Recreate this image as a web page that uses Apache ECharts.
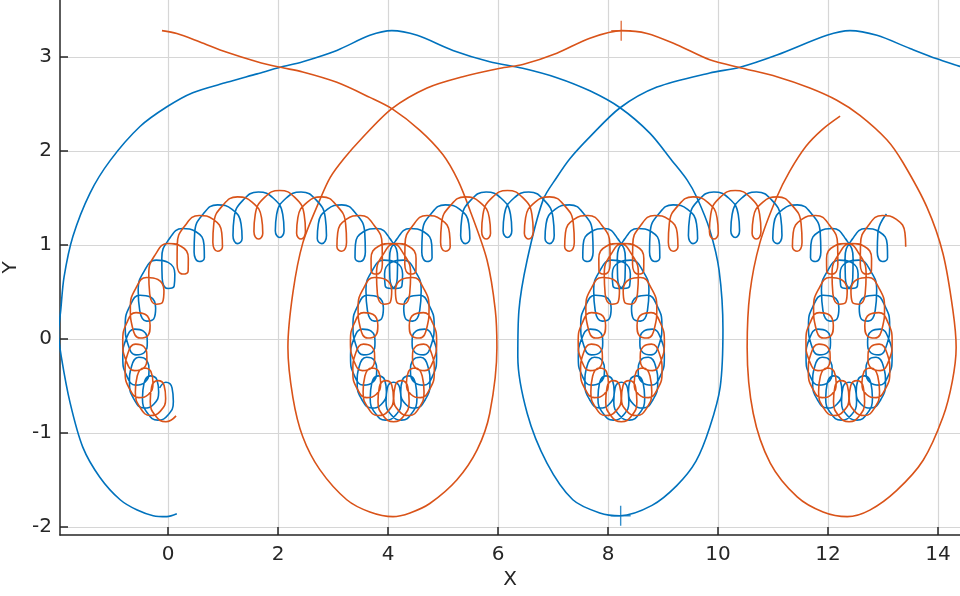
<!DOCTYPE html>
<html>
<head>
<meta charset="utf-8">
<script src="https://cdn.jsdelivr.net/npm/echarts@6/dist/echarts.min.js"></script>
<style>
  html, body { margin: 0; padding: 0; background: #fff; }
  #chart { width: 960px; height: 596px; }
</style>
</head>
<body>
<div id="chart"></div>
<script>
// wide pair
const blueBig = [
  [0.16, -1.86], [-0.02, -1.89], [-0.27, -1.88], [-0.56, -1.82], [-0.87, -1.71], [-1.24, -1.47],
  [-1.55, -1.15], [-1.78, -0.68], [-1.94, -0.19], [-1.99, 0.06], [-1.95, 0.31], [-1.89, 0.66],
  [-1.73, 1.09], [-1.42, 1.55], [-1.05, 1.9], [-0.51, 2.26], [-0.02, 2.47], [0.45, 2.62],
  [1.07, 2.73], [1.62, 2.82], [2.04, 2.89], [2.45, 2.95], [3.07, 3.07], [3.67, 3.23],
  [4.07, 3.28], [4.53, 3.23], [5.18, 3.07], [5.85, 2.95], [6.45, 2.88], [7.07, 2.78],
  [7.67, 2.64], [8.22, 2.46], [8.76, 2.19], [9.16, 1.9], [9.44, 1.69], [9.62, 1.5],
  [9.85, 1.16], [10.02, 0.73], [10.09, 0.1], [10.04, -0.51], [9.85, -0.94], [9.6, -1.3],
  [9.25, -1.56], [8.8, -1.77], [8.22, -1.88], [7.85, -1.85], [7.36, -1.71], [6.89, -1.32],
  [6.53, -0.79], [6.36, -0.19], [6.38, 0.3], [6.53, 0.84], [6.82, 1.48], [7.07, 1.72],
  [7.31, 1.92], [7.67, 2.15], [8.22, 2.46], [8.89, 2.68], [9.85, 2.83], [10.4, 2.89],
  [11.07, 3.02], [11.98, 3.23], [12.4, 3.28], [12.89, 3.23], [13.49, 3.09], [13.98, 2.98],
  [14.4, 2.9], [14.8, 2.82]
];
const orangeBig = [
  [-0.11, 3.28], [0.16, 3.25], [0.58, 3.16], [1.07, 3.05], [1.62, 2.95], [2.04, 2.89],
  [2.45, 2.84], [3.07, 2.73], [3.67, 2.57], [4.07, 2.45], [4.58, 2.22], [5.0, 1.96],
  [5.27, 1.69], [5.49, 1.37], [5.8, 0.84], [5.95, 0.31], [5.98, -0.09], [5.85, -0.79],
  [5.62, -1.18], [5.25, -1.5], [4.76, -1.75], [4.4, -1.85], [4.09, -1.89], [3.67, -1.84],
  [3.25, -1.71], [2.76, -1.39], [2.45, -1.04], [2.27, -0.62], [2.18, -0.09], [2.27, 0.49],
  [2.45, 1.02], [2.76, 1.48], [2.95, 1.72], [3.2, 1.92], [3.5, 2.12], [4.07, 2.45],
  [4.71, 2.67], [5.36, 2.79], [6.04, 2.88], [6.45, 2.92], [7.07, 3.04], [7.67, 3.2],
  [8.25, 3.28], [8.71, 3.25], [9.25, 3.13], [9.85, 2.97], [10.45, 2.88], [11.07, 2.79],
  [11.67, 2.67], [12.16, 2.54], [12.58, 2.38], [13.07, 2.12], [13.36, 1.88], [13.8, 1.4],
  [14.09, 0.91], [14.27, 0.31], [14.33, -0.09], [14.26, -0.45], [14.09, -0.83], [13.73, -1.29],
  [13.25, -1.61], [12.76, -1.82], [12.35, -1.89], [11.91, -1.84], [11.44, -1.68], [10.95, -1.32],
  [10.64, -0.79], [10.53, -0.09], [10.58, 0.49], [10.76, 1.02], [11.07, 1.51], [11.3, 1.78],
  [11.6, 2.05], [11.9, 2.23], [12.22, 2.37]
];

// tight pair: loop chain, eight points per small loop
const blueSmall = [
  [-0.152, -0.520], [-0.040, -0.460], [0.073, -0.520], [0.097, -0.666], [0.000, -0.809], [-0.184, -0.863],
  [-0.369, -0.792], [-0.465, -0.632], [-0.436, -0.469], [-0.320, -0.392], [-0.201, -0.435], [-0.170, -0.565],
  [-0.260, -0.694], [-0.438, -0.734], [-0.614, -0.646], [-0.701, -0.469], [-0.661, -0.287], [-0.529, -0.194],
  [-0.394, -0.224], [-0.346, -0.344], [-0.423, -0.463], [-0.588, -0.491], [-0.752, -0.390], [-0.822, -0.196],
  [-0.762, -0.001], [-0.607, 0.105], [-0.448, 0.083], [-0.377, -0.031], [-0.435, -0.146], [-0.582, -0.169],
  [-0.727, -0.058], [-0.778, 0.146], [-0.692, 0.352], [-0.509, 0.466], [-0.322, 0.446], [-0.225, 0.330],
  [-0.260, 0.213], [-0.387, 0.190], [-0.514, 0.303], [-0.542, 0.514], [-0.430, 0.725], [-0.216, 0.839],
  [0.001, 0.815], [0.124, 0.691], [0.112, 0.565], [0.002, 0.537], [-0.106, 0.647], [-0.113, 0.856],
  [0.024, 1.066], [0.265, 1.175], [0.509, 1.141], [0.654, 1.004], [0.661, 0.864], [0.567, 0.824],
  [0.474, 0.925], [0.485, 1.128], [0.640, 1.330], [0.902, 1.427], [1.165, 1.379], [1.328, 1.225],
  [1.347, 1.069], [1.263, 1.014], [1.181, 1.102], [1.202, 1.292], [1.369, 1.480], [1.643, 1.563],
  [1.916, 1.497], [2.086, 1.326], [2.110, 1.152],
  [2.031, 1.080], [1.951, 1.152], [1.975, 1.326], [2.145, 1.497], [2.419, 1.563], [2.692, 1.480],
  [2.859, 1.292], [2.881, 1.102], [2.798, 1.014], [2.714, 1.069], [2.733, 1.225], [2.896, 1.379],
  [3.159, 1.427], [3.421, 1.330], [3.577, 1.128], [3.588, 0.925], [3.495, 0.824], [3.400, 0.864],
  [3.407, 1.004], [3.553, 1.141], [3.797, 1.175], [4.037, 1.066], [4.174, 0.856], [4.168, 0.647],
  [4.059, 0.537], [3.949, 0.565], [3.937, 0.691], [4.060, 0.815], [4.278, 0.839], [4.491, 0.725],
  [4.603, 0.514], [4.576, 0.303], [4.449, 0.190], [4.321, 0.213], [4.286, 0.330], [4.383, 0.446],
  [4.571, 0.466], [4.753, 0.352], [4.839, 0.146], [4.788, -0.058], [4.643, -0.169], [4.496, -0.146],
  [4.438, -0.031], [4.509, 0.083], [4.668, 0.105], [4.823, -0.001], [4.883, -0.196], [4.813, -0.390],
  [4.649, -0.491], [4.484, -0.463], [4.408, -0.344], [4.456, -0.224], [4.591, -0.194], [4.723, -0.287],
  [4.763, -0.469], [4.676, -0.646], [4.499, -0.734], [4.322, -0.694], [4.231, -0.565], [4.263, -0.435],
  [4.381, -0.392], [4.498, -0.469], [4.526, -0.632], [4.430, -0.792], [4.246, -0.863], [4.061, -0.809],
  [3.964, -0.666], [3.988, -0.520], [4.101, -0.460], [4.213, -0.520], [4.238, -0.666], [4.141, -0.809],
  [3.956, -0.863], [3.772, -0.792], [3.676, -0.632], [3.704, -0.469], [3.821, -0.392], [3.939, -0.435],
  [3.971, -0.565], [3.880, -0.694], [3.703, -0.734], [3.526, -0.646], [3.439, -0.469], [3.479, -0.287],
  [3.611, -0.194], [3.746, -0.224], [3.794, -0.344], [3.718, -0.463], [3.553, -0.491], [3.389, -0.390],
  [3.319, -0.196], [3.378, -0.001], [3.534, 0.105], [3.693, 0.083], [3.763, -0.031], [3.706, -0.146],
  [3.559, -0.169], [3.413, -0.058], [3.363, 0.146], [3.449, 0.352], [3.631, 0.466], [3.819, 0.446],
  [3.916, 0.330], [3.881, 0.213], [3.753, 0.190], [3.626, 0.303], [3.599, 0.514], [3.711, 0.725],
  [3.924, 0.839], [4.141, 0.815], [4.265, 0.691], [4.253, 0.565], [4.143, 0.537], [4.034, 0.647],
  [4.028, 0.856], [4.165, 1.066], [4.405, 1.175], [4.649, 1.141], [4.795, 1.004], [4.801, 0.864],
  [4.707, 0.824], [4.614, 0.925], [4.625, 1.128], [4.781, 1.330], [5.043, 1.427], [5.306, 1.379],
  [5.469, 1.225], [5.488, 1.069], [5.404, 1.014], [5.321, 1.102], [5.343, 1.292], [5.510, 1.480],
  [5.783, 1.563], [6.057, 1.497], [6.227, 1.326], [6.251, 1.152],
  [6.172, 1.080], [6.092, 1.152], [6.116, 1.326], [6.286, 1.497], [6.560, 1.563], [6.833, 1.480],
  [7.000, 1.292], [7.022, 1.102], [6.939, 1.014], [6.855, 1.069], [6.874, 1.225], [7.037, 1.379],
  [7.300, 1.427], [7.562, 1.330], [7.718, 1.128], [7.729, 0.925], [7.636, 0.824], [7.541, 0.864],
  [7.548, 1.004], [7.694, 1.141], [7.938, 1.175], [8.178, 1.066], [8.315, 0.856], [8.309, 0.647],
  [8.200, 0.537], [8.090, 0.565], [8.078, 0.691], [8.201, 0.815], [8.419, 0.839], [8.632, 0.725],
  [8.744, 0.514], [8.717, 0.303], [8.590, 0.190], [8.462, 0.213], [8.427, 0.330], [8.524, 0.446],
  [8.712, 0.466], [8.894, 0.352], [8.980, 0.146], [8.929, -0.058], [8.784, -0.169], [8.637, -0.146],
  [8.579, -0.031], [8.650, 0.083], [8.809, 0.105], [8.964, -0.001], [9.024, -0.196], [8.954, -0.390],
  [8.790, -0.491], [8.625, -0.463], [8.549, -0.344], [8.597, -0.224], [8.732, -0.194], [8.864, -0.287],
  [8.904, -0.469], [8.817, -0.646], [8.640, -0.734], [8.463, -0.694], [8.372, -0.565], [8.404, -0.435],
  [8.522, -0.392], [8.639, -0.469], [8.667, -0.632], [8.571, -0.792], [8.387, -0.863], [8.202, -0.809],
  [8.105, -0.666], [8.129, -0.520], [8.242, -0.460], [8.354, -0.520], [8.379, -0.666], [8.282, -0.809],
  [8.097, -0.863], [7.913, -0.792], [7.817, -0.632], [7.845, -0.469], [7.962, -0.392], [8.080, -0.435],
  [8.112, -0.565], [8.021, -0.694], [7.844, -0.734], [7.667, -0.646], [7.580, -0.469], [7.620, -0.287],
  [7.752, -0.194], [7.887, -0.224], [7.935, -0.344], [7.859, -0.463], [7.694, -0.491], [7.530, -0.390],
  [7.460, -0.196], [7.519, -0.001], [7.675, 0.105], [7.834, 0.083], [7.904, -0.031], [7.847, -0.146],
  [7.700, -0.169], [7.554, -0.058], [7.504, 0.146], [7.590, 0.352], [7.772, 0.466], [7.960, 0.446],
  [8.057, 0.330], [8.022, 0.213], [7.894, 0.190], [7.767, 0.303], [7.740, 0.514], [7.852, 0.725],
  [8.065, 0.839], [8.282, 0.815], [8.406, 0.691], [8.394, 0.565], [8.284, 0.537], [8.175, 0.647],
  [8.169, 0.856], [8.306, 1.066], [8.546, 1.175], [8.790, 1.141], [8.936, 1.004], [8.942, 0.864],
  [8.848, 0.824], [8.755, 0.925], [8.766, 1.128], [8.922, 1.330], [9.184, 1.427], [9.447, 1.379],
  [9.610, 1.225], [9.629, 1.069], [9.545, 1.014], [9.462, 1.102], [9.484, 1.292], [9.651, 1.480],
  [9.924, 1.563], [10.198, 1.497], [10.368, 1.326], [10.392, 1.152],
  [10.313, 1.080], [10.233, 1.152], [10.257, 1.326], [10.427, 1.497], [10.701, 1.563], [10.974, 1.480],
  [11.141, 1.292], [11.163, 1.102], [11.080, 1.014], [10.996, 1.069], [11.015, 1.225], [11.178, 1.379],
  [11.441, 1.427], [11.703, 1.330], [11.859, 1.128], [11.870, 0.925], [11.777, 0.824], [11.682, 0.864],
  [11.689, 1.004], [11.835, 1.141], [12.079, 1.175], [12.319, 1.066], [12.456, 0.856], [12.450, 0.647],
  [12.341, 0.537], [12.231, 0.565], [12.219, 0.691], [12.342, 0.815], [12.560, 0.839], [12.773, 0.725],
  [12.885, 0.514], [12.858, 0.303], [12.731, 0.190], [12.603, 0.213], [12.568, 0.330], [12.665, 0.446],
  [12.853, 0.466], [13.035, 0.352], [13.121, 0.146], [13.070, -0.058], [12.925, -0.169], [12.778, -0.146],
  [12.720, -0.031], [12.791, 0.083], [12.950, 0.105], [13.105, -0.001], [13.165, -0.196], [13.095, -0.390],
  [12.931, -0.491], [12.766, -0.463], [12.690, -0.344], [12.738, -0.224], [12.873, -0.194], [13.005, -0.287],
  [13.045, -0.469], [12.958, -0.646], [12.781, -0.734], [12.604, -0.694], [12.513, -0.565], [12.545, -0.435],
  [12.663, -0.392], [12.780, -0.469], [12.808, -0.632], [12.712, -0.792], [12.528, -0.863], [12.343, -0.809],
  [12.246, -0.666], [12.270, -0.520], [12.383, -0.460], [12.495, -0.520], [12.520, -0.666], [12.423, -0.809],
  [12.238, -0.863], [12.054, -0.792], [11.958, -0.632], [11.986, -0.469], [12.103, -0.392], [12.221, -0.435],
  [12.253, -0.565], [12.162, -0.694], [11.985, -0.734], [11.808, -0.646], [11.721, -0.469], [11.761, -0.287],
  [11.893, -0.194], [12.028, -0.224], [12.076, -0.344], [12.000, -0.463], [11.835, -0.491], [11.671, -0.390],
  [11.601, -0.196], [11.660, -0.001], [11.816, 0.105], [11.975, 0.083], [12.045, -0.031], [11.988, -0.146],
  [11.841, -0.169], [11.695, -0.058], [11.645, 0.146], [11.731, 0.352], [11.913, 0.466], [12.101, 0.446],
  [12.198, 0.330], [12.163, 0.213], [12.035, 0.190], [11.908, 0.303], [11.881, 0.514], [11.993, 0.725],
  [12.206, 0.839], [12.423, 0.815], [12.547, 0.691], [12.535, 0.565], [12.425, 0.537], [12.316, 0.647],
  [12.310, 0.856], [12.447, 1.066], [12.687, 1.175], [12.931, 1.141], [13.077, 1.004], [13.083, 0.864],
  [12.989, 0.824], [12.896, 0.925], [12.907, 1.128], [13.063, 1.330]
];
const orangeSmall = [
  [0.146, -0.818], [-0.040, -0.880], [-0.225, -0.818], [-0.323, -0.666], [-0.298, -0.511], [-0.184, -0.443],
  [-0.071, -0.494], [-0.043, -0.632], [-0.138, -0.767], [-0.320, -0.814], [-0.501, -0.735], [-0.594, -0.565],
  [-0.560, -0.394], [-0.438, -0.308], [-0.312, -0.344], [-0.273, -0.469], [-0.357, -0.591], [-0.529, -0.624],
  [-0.700, -0.530], [-0.780, -0.344], [-0.731, -0.155], [-0.588, -0.055], [-0.442, -0.080], [-0.384, -0.196],
  [-0.450, -0.313], [-0.607, -0.337], [-0.762, -0.231], [-0.823, -0.031], [-0.751, 0.170], [-0.582, 0.281],
  [-0.409, 0.260], [-0.326, 0.146], [-0.372, 0.032], [-0.509, 0.010], [-0.646, 0.122], [-0.685, 0.330],
  [-0.586, 0.539], [-0.387, 0.654], [-0.184, 0.633], [-0.074, 0.514], [-0.098, 0.393], [-0.216, 0.369],
  [-0.333, 0.481], [-0.350, 0.691], [-0.226, 0.903], [0.002, 1.015], [0.234, 0.987], [0.369, 0.856],
  [0.366, 0.724], [0.265, 0.691], [0.165, 0.797], [0.168, 1.004], [0.315, 1.210], [0.567, 1.314],
  [0.822, 1.273], [0.977, 1.128], [0.990, 0.980], [0.902, 0.933], [0.815, 1.029], [0.832, 1.225],
  [0.995, 1.421], [1.263, 1.512], [1.533, 1.454], [1.700, 1.292], [1.723, 1.126], [1.643, 1.063],
  [1.562, 1.143], [1.586, 1.326], [1.756, 1.506],
  [2.031, 1.580], [2.305, 1.506], [2.475, 1.326], [2.499, 1.143], [2.419, 1.063], [2.338, 1.126],
  [2.361, 1.292], [2.529, 1.454], [2.798, 1.512], [3.066, 1.421], [3.229, 1.225], [3.246, 1.029],
  [3.159, 0.933], [3.071, 0.980], [3.085, 1.128], [3.240, 1.273], [3.495, 1.314], [3.746, 1.210],
  [3.893, 1.004], [3.897, 0.797], [3.797, 0.691], [3.695, 0.724], [3.692, 0.856], [3.828, 0.987],
  [4.059, 1.015], [4.287, 0.903], [4.411, 0.691], [4.394, 0.481], [4.278, 0.369], [4.159, 0.393],
  [4.135, 0.514], [4.246, 0.633], [4.449, 0.654], [4.647, 0.539], [4.746, 0.330], [4.707, 0.122],
  [4.571, 0.010], [4.433, 0.032], [4.387, 0.146], [4.470, 0.260], [4.643, 0.281], [4.812, 0.170],
  [4.884, -0.031], [4.823, -0.231], [4.668, -0.337], [4.511, -0.313], [4.445, -0.196], [4.503, -0.080],
  [4.649, -0.055], [4.792, -0.155], [4.842, -0.344], [4.762, -0.530], [4.591, -0.624], [4.419, -0.591],
  [4.335, -0.469], [4.374, -0.344], [4.499, -0.308], [4.622, -0.394], [4.655, -0.565], [4.563, -0.735],
  [4.381, -0.814], [4.200, -0.767], [4.104, -0.632], [4.132, -0.494], [4.246, -0.443], [4.359, -0.511],
  [4.384, -0.666], [4.286, -0.818], [4.101, -0.880], [3.915, -0.818], [3.818, -0.666], [3.843, -0.511],
  [3.956, -0.443], [4.070, -0.494], [4.098, -0.632], [4.002, -0.767], [3.821, -0.814], [3.639, -0.735],
  [3.547, -0.565], [3.580, -0.394], [3.703, -0.308], [3.828, -0.344], [3.867, -0.469], [3.783, -0.591],
  [3.611, -0.624], [3.440, -0.530], [3.360, -0.344], [3.410, -0.155], [3.553, -0.055], [3.699, -0.080],
  [3.757, -0.196], [3.690, -0.313], [3.534, -0.337], [3.379, -0.231], [3.317, -0.031], [3.390, 0.170],
  [3.559, 0.281], [3.731, 0.260], [3.815, 0.146], [3.769, 0.032], [3.631, 0.010], [3.495, 0.122],
  [3.456, 0.330], [3.555, 0.539], [3.753, 0.654], [3.956, 0.633], [4.067, 0.514], [4.043, 0.393],
  [3.924, 0.369], [3.807, 0.481], [3.791, 0.691], [3.915, 0.903], [4.143, 1.015], [4.374, 0.987],
  [4.510, 0.856], [4.507, 0.724], [4.405, 0.691], [4.305, 0.797], [4.309, 1.004], [4.455, 1.210],
  [4.707, 1.314], [4.962, 1.273], [5.117, 1.128], [5.131, 0.980], [5.043, 0.933], [4.956, 1.029],
  [4.973, 1.225], [5.136, 1.421], [5.404, 1.512], [5.673, 1.454], [5.841, 1.292], [5.864, 1.126],
  [5.783, 1.063], [5.703, 1.143], [5.727, 1.326], [5.897, 1.506],
  [6.172, 1.580], [6.446, 1.506], [6.616, 1.326], [6.640, 1.143], [6.560, 1.063], [6.479, 1.126],
  [6.502, 1.292], [6.670, 1.454], [6.939, 1.512], [7.207, 1.421], [7.370, 1.225], [7.387, 1.029],
  [7.300, 0.933], [7.212, 0.980], [7.226, 1.128], [7.381, 1.273], [7.636, 1.314], [7.887, 1.210],
  [8.034, 1.004], [8.038, 0.797], [7.938, 0.691], [7.836, 0.724], [7.833, 0.856], [7.969, 0.987],
  [8.200, 1.015], [8.428, 0.903], [8.552, 0.691], [8.535, 0.481], [8.419, 0.369], [8.300, 0.393],
  [8.276, 0.514], [8.387, 0.633], [8.590, 0.654], [8.788, 0.539], [8.887, 0.330], [8.848, 0.122],
  [8.712, 0.010], [8.574, 0.032], [8.528, 0.146], [8.611, 0.260], [8.784, 0.281], [8.953, 0.170],
  [9.025, -0.031], [8.964, -0.231], [8.809, -0.337], [8.652, -0.313], [8.586, -0.196], [8.644, -0.080],
  [8.790, -0.055], [8.933, -0.155], [8.983, -0.344], [8.903, -0.530], [8.732, -0.624], [8.560, -0.591],
  [8.476, -0.469], [8.515, -0.344], [8.640, -0.308], [8.763, -0.394], [8.796, -0.565], [8.704, -0.735],
  [8.522, -0.814], [8.341, -0.767], [8.245, -0.632], [8.273, -0.494], [8.387, -0.443], [8.500, -0.511],
  [8.525, -0.666], [8.427, -0.818], [8.242, -0.880], [8.056, -0.818], [7.959, -0.666], [7.984, -0.511],
  [8.097, -0.443], [8.211, -0.494], [8.239, -0.632], [8.143, -0.767], [7.962, -0.814], [7.780, -0.735],
  [7.688, -0.565], [7.721, -0.394], [7.844, -0.308], [7.969, -0.344], [8.008, -0.469], [7.924, -0.591],
  [7.752, -0.624], [7.581, -0.530], [7.501, -0.344], [7.551, -0.155], [7.694, -0.055], [7.840, -0.080],
  [7.898, -0.196], [7.831, -0.313], [7.675, -0.337], [7.520, -0.231], [7.458, -0.031], [7.531, 0.170],
  [7.700, 0.281], [7.872, 0.260], [7.956, 0.146], [7.910, 0.032], [7.772, 0.010], [7.636, 0.122],
  [7.597, 0.330], [7.696, 0.539], [7.894, 0.654], [8.097, 0.633], [8.208, 0.514], [8.184, 0.393],
  [8.065, 0.369], [7.948, 0.481], [7.932, 0.691], [8.056, 0.903], [8.284, 1.015], [8.515, 0.987],
  [8.651, 0.856], [8.648, 0.724], [8.546, 0.691], [8.446, 0.797], [8.450, 1.004], [8.596, 1.210],
  [8.848, 1.314], [9.103, 1.273], [9.258, 1.128], [9.272, 0.980], [9.184, 0.933], [9.097, 1.029],
  [9.114, 1.225], [9.277, 1.421], [9.545, 1.512], [9.814, 1.454], [9.982, 1.292], [10.005, 1.126],
  [9.924, 1.063], [9.844, 1.143], [9.868, 1.326], [10.038, 1.506],
  [10.313, 1.580], [10.587, 1.506], [10.757, 1.326], [10.781, 1.143], [10.701, 1.063], [10.620, 1.126],
  [10.643, 1.292], [10.811, 1.454], [11.080, 1.512], [11.348, 1.421], [11.511, 1.225], [11.528, 1.029],
  [11.441, 0.933], [11.353, 0.980], [11.367, 1.128], [11.522, 1.273], [11.777, 1.314], [12.028, 1.210],
  [12.175, 1.004], [12.179, 0.797], [12.079, 0.691], [11.977, 0.724], [11.974, 0.856], [12.110, 0.987],
  [12.341, 1.015], [12.569, 0.903], [12.693, 0.691], [12.676, 0.481], [12.560, 0.369], [12.441, 0.393],
  [12.417, 0.514], [12.528, 0.633], [12.731, 0.654], [12.929, 0.539], [13.028, 0.330], [12.989, 0.122],
  [12.853, 0.010], [12.715, 0.032], [12.669, 0.146], [12.752, 0.260], [12.925, 0.281], [13.094, 0.170],
  [13.166, -0.031], [13.105, -0.231], [12.950, -0.337], [12.793, -0.313], [12.727, -0.196], [12.785, -0.080],
  [12.931, -0.055], [13.074, -0.155], [13.124, -0.344], [13.044, -0.530], [12.873, -0.624], [12.701, -0.591],
  [12.617, -0.469], [12.656, -0.344], [12.781, -0.308], [12.904, -0.394], [12.937, -0.565], [12.845, -0.735],
  [12.663, -0.814], [12.482, -0.767], [12.386, -0.632], [12.414, -0.494], [12.528, -0.443], [12.641, -0.511],
  [12.666, -0.666], [12.568, -0.818], [12.383, -0.880], [12.197, -0.818], [12.100, -0.666], [12.125, -0.511],
  [12.238, -0.443], [12.352, -0.494], [12.380, -0.632], [12.284, -0.767], [12.103, -0.814], [11.921, -0.735],
  [11.829, -0.565], [11.862, -0.394], [11.985, -0.308], [12.110, -0.344], [12.149, -0.469], [12.065, -0.591],
  [11.893, -0.624], [11.722, -0.530], [11.642, -0.344], [11.692, -0.155], [11.835, -0.055], [11.981, -0.080],
  [12.039, -0.196], [11.972, -0.313], [11.816, -0.337], [11.661, -0.231], [11.599, -0.031], [11.672, 0.170],
  [11.841, 0.281], [12.013, 0.260], [12.097, 0.146], [12.051, 0.032], [11.913, 0.010], [11.777, 0.122],
  [11.738, 0.330], [11.837, 0.539], [12.035, 0.654], [12.238, 0.633], [12.349, 0.514], [12.325, 0.393],
  [12.206, 0.369], [12.089, 0.481], [12.073, 0.691], [12.197, 0.903], [12.425, 1.015], [12.656, 0.987],
  [12.792, 0.856], [12.789, 0.724], [12.687, 0.691], [12.587, 0.797], [12.591, 1.004], [12.737, 1.210],
  [12.989, 1.314], [13.244, 1.273], [13.399, 1.128], [13.413, 0.980]
];

const bluePlus = [[8.23, -1.88]];
const orangePlus = [[8.24, 3.28]];

const blue = '#0072BD';
const orange = '#D95319';
const axisColor = '#262626';
const fontFamily = 'DejaVu Sans';
const plusPath = 'path://M9.3,0H10.7V20H9.3ZM0,9.3H20V10.7H0Z';

function axisStyle (extra) {
  return Object.assign({
    type: 'value',
    nameLocation: 'middle',
    nameTextStyle: { color: axisColor, fontSize: 20, fontFamily: fontFamily },
    axisLine: { onZero: false, lineStyle: { color: axisColor, width: 1.5 } },
    axisTick: { inside: true, length: 8, lineStyle: { color: axisColor, width: 1.5 } },
    axisLabel: { showMinLabel: false, showMaxLabel: false, color: axisColor, fontSize: 20, fontFamily: fontFamily },
    splitLine: { show: true, showMinLine: false, showMaxLine: false, lineStyle: { color: '#d6d6d6', width: 1.2 } }
  }, extra)
}

function curve (data, color, smooth) {
  return { type: 'line', data: data, smooth: smooth, showSymbol: false, lineStyle: { color: color, width: 1.6 } }
}

let chart = echarts.init(document.getElementById('chart'));
let xAxis = axisStyle({ min: -1.964, max: 14.4, splitNumber: 8, name: 'X', nameGap: 35 });
xAxis.axisLabel.margin = 10;
let yAxis = axisStyle({ min: -2.085, max: 3.606, splitNumber: 5, name: 'Y', nameGap: 37 });
yAxis.axisLabel.margin = 8;
chart.setOption({
  animation: false,
  grid: { left: 60, right: 0, top: 0, bottom: 61, containLabel: false, outerBoundsMode: 'none' },
  xAxis: xAxis,
  yAxis: yAxis,
  series: [
    curve(blueBig, blue, 0.3),
    curve(orangeBig, orange, 0.3),
    curve(blueSmall, blue, 0.5),
    curve(orangeSmall, orange, 0.5),
    { type: 'scatter', data: bluePlus, symbol: plusPath, symbolSize: 20, itemStyle: { color: blue } },
    { type: 'scatter', data: orangePlus, symbol: plusPath, symbolSize: 20, itemStyle: { color: orange } }
  ]
});
</script>
</body>
</html>
